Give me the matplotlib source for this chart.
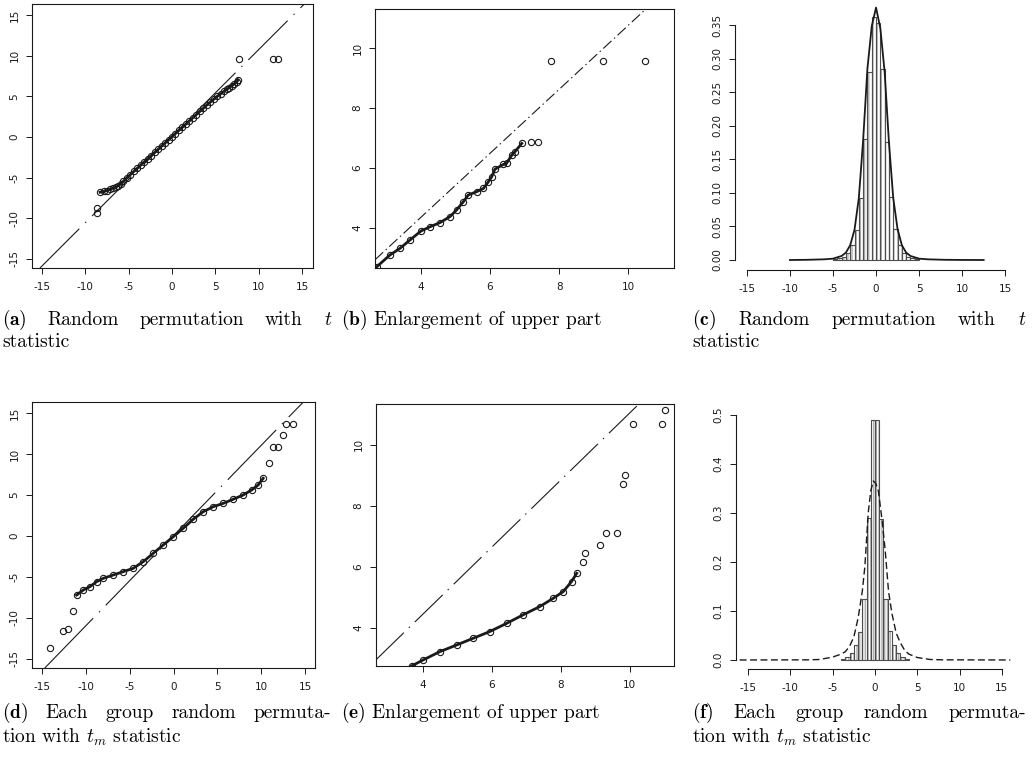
import matplotlib.pyplot as plt

plt.rcParams["axes.unicode_minus"] = False
plt.rcParams["mathtext.fontset"] = "cm"
plt.rcParams["lines.scale_dashes"] = False
plt.rcParams["font.family"] = "DejaVu Sans"

W, H = 1032, 762
INK = "#1a1a1a"

# ---------------- data ----------------
# (a) QQ plot, random permutation with t statistic
a_band_x = [-8.3, -7.9, -7.5, -7.1, -6.8, -6.5, -6.2, -5.9, -5.6, -5.2, -4.8, -4.4, -4.0, -3.6,
            -3.2, -2.8, -2.4, -2.0, -1.6, -1.2, -0.8, -0.4, 0.0, 0.4, 0.8, 1.2, 1.6, 2.0, 2.4,
            2.8, 3.2, 3.6, 4.0, 4.4, 4.8, 5.2, 5.6, 6.0, 6.3, 6.6, 6.9, 7.2, 7.5, 7.6]
a_band_y = [-6.8, -6.7, -6.6, -6.4, -6.3, -6.2, -6.0, -5.75, -5.45, -5.02, -4.63, -4.24, -3.85,
            -3.46, -3.07, -2.69, -2.3, -1.91, -1.52, -1.13, -0.75, -0.36, 0.03, 0.42, 0.81, 1.19,
            1.58, 1.97, 2.36, 2.75, 3.13, 3.52, 3.91, 4.28, 4.62, 4.98, 5.3, 5.6, 5.85, 6.05, 6.3,
            6.55, 6.8, 7.05]
a_out_x = [-8.7, -8.7, 7.76, 11.68, 12.26]
a_out_y = [-8.8, -9.4, 9.55, 9.55, 9.55]

# (b) enlargement of the upper part of (a)
b_band_x = [2.72, 3.1, 3.39, 3.68, 4.0, 4.26, 4.55, 4.84, 5.03, 5.23, 5.37, 5.61, 5.81, 5.95,
            6.05, 6.14, 6.39, 6.48, 6.63, 6.72, 6.92]
b_band_y = [2.71, 3.1, 3.32, 3.6, 3.9, 4.04, 4.18, 4.38, 4.6, 4.88, 5.1, 5.21, 5.32, 5.54,
            5.71, 5.96, 6.12, 6.16, 6.43, 6.54, 6.82]
b_out_x = [7.19, 7.4, 7.76, 9.28, 10.49]
b_out_y = [6.88, 6.88, 9.57, 9.57, 9.57]

# reference lines (intercept, slope)
top_line = (0.1, 1.065)
bot_line = (0.05, 1.1)

# (c) histogram + density, random permutation with t statistic
c_left = [-5.0, -4.5, -4.0, -3.5, -3.0, -2.5, -2.0, -1.5, -1.0, -0.5,
          0.0, 0.5, 1.0, 1.5, 2.0, 2.5, 3.0, 3.5, 4.0, 4.5]
c_height = [0.002, 0.003, 0.005, 0.010, 0.022, 0.045, 0.092, 0.18, 0.28, 0.362,
            0.353, 0.285, 0.176, 0.094, 0.046, 0.022, 0.010, 0.005, 0.003, 0.002]
c_curve_x = [-10, -8, -6, -5, -4, -3.5, -3, -2.5, -2, -1.5, -1, -0.5, 0,
             0.5, 1, 1.5, 2, 2.5, 3, 3.5, 4, 5, 6, 8, 10, 12.5]
c_curve_y = [0, 0.0003, 0.001, 0.002, 0.006, 0.011, 0.022, 0.045, 0.092, 0.178, 0.285, 0.348, 0.376,
             0.345, 0.28, 0.175, 0.092, 0.046, 0.022, 0.011, 0.006, 0.002, 0.001, 0.0003, 0.0001, 0]

# (d) QQ plot, each group random permutation with t_m statistic
d_band_x = [-11.05, -10.29, -9.53, -8.77, -8.0, -6.87, -5.73, -4.59, -3.45, -2.31, -1.17, -0.03,
            1.11, 2.25, 3.39, 4.53, 5.67, 6.81, 7.95, 8.91, 9.66, 10.23]
d_band_y = [-7.2, -6.59, -6.18, -5.57, -5.16, -4.76, -4.35, -3.94, -3.13, -2.11, -1.1, -0.09,
            0.94, 2.04, 2.96, 3.57, 3.98, 4.48, 5.0, 5.61, 6.22, 7.04]
d_out_x = [-14.1, -12.6, -12.0, -11.5, 10.92, 11.37, 11.95, 12.5, 12.8, 13.65]
d_out_y = [-13.6, -11.6, -11.4, -9.1, 8.87, 10.8, 10.8, 12.3, 13.7, 13.7]

# (e) enlargement of the upper part of (d)
e_band_x = [3.67, 4.01, 4.49, 4.98, 5.46, 5.94, 6.43, 6.91, 7.39, 7.78, 8.07, 8.31, 8.46]
e_band_y = [2.75, 2.95, 3.22, 3.44, 3.66, 3.88, 4.15, 4.43, 4.7, 4.97, 5.19, 5.52, 5.79]
e_out_x = [8.65, 8.7, 9.13, 9.3, 9.64, 9.79, 9.86, 10.1, 10.92, 11.01]
e_out_y = [6.17, 6.47, 6.72, 7.12, 7.12, 8.72, 9.02, 10.7, 10.7, 11.15]

# (f) histogram + density, each group random permutation with t_m statistic
f_left = [-4.0, -3.5, -3.0, -2.5, -2.0, -1.5, -1.0, -0.5,
          0.0, 0.5, 1.0, 1.5, 2.0, 2.5, 3.0, 3.5]
f_height = [0.003, 0.006, 0.014, 0.03, 0.058, 0.125, 0.29, 0.49,
            0.49, 0.288, 0.125, 0.06, 0.03, 0.014, 0.006, 0.003]
f_curve_x = [-16, -8, -6.5, -5, -4, -3.5, -3, -2.5, -2, -1.5, -1.2, -0.8, -0.5, -0.2,
             0.1, 0.4, 0.8, 1.2, 1.6, 2.0, 2.5, 3.0, 3.5, 4.0, 5.0, 6.5, 8, 16]
f_curve_y = [0, 0.0003, 0.001, 0.006, 0.012, 0.017, 0.028, 0.047, 0.085, 0.14, 0.19, 0.30, 0.345,
             0.365, 0.36, 0.345, 0.29, 0.225, 0.14, 0.095, 0.055, 0.035, 0.02, 0.012, 0.005, 0.001,
             0.0003, 0]

qq_ticks_big = [-15, -10, -5, 0, 5, 10, 15]
qq_ticks_small = [4, 6, 8, 10]


fig = plt.figure(figsize=(W / 100, H / 100), dpi=100)


def px_axes(left, top, right, bottom):
    return fig.add_axes([left / W, 1 - bottom / H, (right - left) / W, (bottom - top) / H])


def r_ticks(ax):
    ax.tick_params(direction="out", length=4, width=0.7, labelsize=7.5, pad=6, colors=INK)
    ax.tick_params(axis="y", labelrotation=90, pad=5)
    for lab in ax.get_yticklabels():
        lab.set_va("center")


def qq_panel(rect, xlim, ylim, ticks, bx, by, ox, oy, line, dashes):
    ax = px_axes(*rect)
    ax.axline((0, line[0]), slope=line[1], color=INK, lw=0.8, dashes=dashes)
    ax.plot(bx, by, color=INK, lw=2.0, marker="o", ms=4.5, mfc="none", mew=0.8)
    ax.plot(ox, oy, ls="none", marker="o", ms=4.5, mfc="none", mew=0.8, color=INK)
    ax.set_xlim(xlim)
    ax.set_ylim(ylim)
    ax.set_xticks(ticks)
    ax.set_yticks(ticks)
    for s in ax.spines.values():
        s.set_linewidth(0.8)
        s.set_color(INK)
    r_ticks(ax)
    return ax


def hist_panel(rect, xlim, ylim, left, height, cx, cy, yticks, ylabels, hatch, curve_dashes):
    ax = px_axes(*rect)
    if hatch:
        ax.bar(left, height, width=0.5, align="edge", color="white", edgecolor="#b0b0b0",
               hatch=hatch, linewidth=0)
    ax.bar(left, height, width=0.5, align="edge", color="none", edgecolor="#4d4d4d", linewidth=0.8)
    if curve_dashes:
        ax.plot(cx, cy, color=INK, lw=1.0, dashes=curve_dashes)
    else:
        ax.plot(cx, cy, color=INK, lw=1.3)
    ax.set_xlim(xlim)
    ax.set_ylim(ylim)
    ax.set_xticks(qq_ticks_big)
    ax.set_yticks(yticks)
    ax.set_yticklabels(ylabels)
    ax.spines[["top", "right"]].set_visible(False)
    ax.spines["left"].set_bounds(yticks[0], yticks[-1])
    ax.spines["bottom"].set_bounds(-15, 15)
    for s in ("left", "bottom"):
        ax.spines[s].set_linewidth(0.8)
        ax.spines[s].set_color(INK)
    ax.patch.set_alpha(0)
    r_ticks(ax)
    return ax


qq_panel((32, 4, 313, 268), (-16.15, 16.26), (-16.12, 16.35), qq_ticks_big,
         a_band_x, a_band_y, a_out_x, a_out_y, top_line, (40, 6, 1, 6))
qq_panel((375, 9, 674, 268), (2.667, 11.33), (2.667, 11.3), qq_ticks_small,
         b_band_x, b_band_y, b_out_x, b_out_y, top_line, (8, 2.5, 1, 2.5))
hist_panel((735, 5, 1015, 270), (-16.38, 16.14), (-0.0149, 0.3798), c_left, c_height,
           c_curve_x, c_curve_y, [0, 0.05, 0.10, 0.15, 0.20, 0.25, 0.30, 0.35],
           ["0.00", "0.05", "0.10", "0.15", "0.20", "0.25", "0.30", "0.35"], "||||", None)
qq_panel((32, 402, 315, 668), (-16.14, 16.14), (-16.1, 16.34), qq_ticks_big,
         d_band_x, d_band_y, d_out_x, d_out_y, bot_line, (50, 6, 1, 6))
qq_panel((376, 404, 674, 666), (2.64, 11.28), (2.75, 11.34), qq_ticks_small,
         e_band_x, e_band_y, e_out_x, e_out_y, bot_line, (28, 5, 1, 5))
hist_panel((736, 405, 1015, 669), (-16.43, 16.55), (-0.0184, 0.52), f_left, f_height,
           f_curve_x, f_curve_y, [0, 0.1, 0.2, 0.3, 0.4, 0.5],
           ["0.0", "0.1", "0.2", "0.3", "0.4", "0.5"], "||||||", (5, 2.5))

# ---------------- captions ----------------
CAP = dict(fontfamily="cmr10", fontsize=14, color="black", va="baseline", ha="left")
renderer = fig.canvas.get_renderer()


def justified(words, x0, x1, y):
    texts = [fig.text(0, 1 - y / H, w, **CAP) for w in words]
    widths = [t.get_window_extent(renderer).width for t in texts]
    gap = (x1 - x0 - sum(widths)) / (len(words) - 1)
    x = x0
    for t, w in zip(texts, widths):
        t.set_x(x / W)
        x += w + gap


def plain(s, x, y):
    fig.text(x / W, 1 - y / H, s, **CAP)


justified([r"$\mathbf{(a)}$", "Random", "permutation", "with", "$t$"], 2, 332, 325)
plain("statistic", 2, 347)
plain(r"$\mathbf{(b)}$ Enlargement of upper part", 341, 325)
justified([r"$\mathbf{(c)}$", "Random", "permutation", "with", "$t$"], 692, 1026, 325)
plain("statistic", 692, 347)
justified([r"$\mathbf{(d)}$", "Each", "group", "random", "permuta-"], 2, 331, 718)
plain("tion with $t_m$ statistic", 2, 743)
plain(r"$\mathbf{(e)}$ Enlargement of upper part", 341, 718)
justified([r"$\mathbf{(f)}$", "Each", "group", "random", "permuta-"], 692, 1026, 718)
plain("tion with $t_m$ statistic", 692, 743)

fig.savefig("out.png", dpi=100, facecolor="white")
